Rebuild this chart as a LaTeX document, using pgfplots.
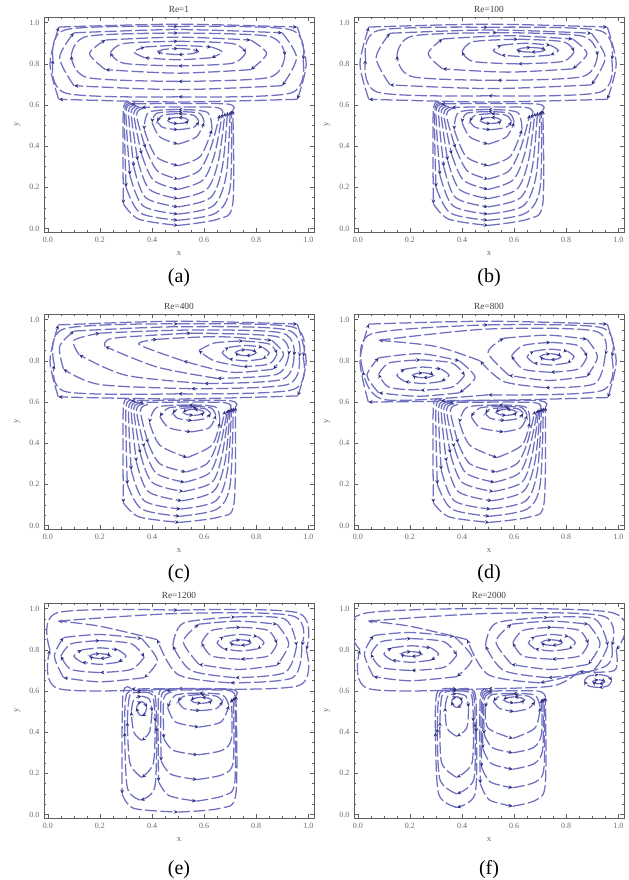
\documentclass[border=0pt]{standalone}
\usepackage{fontspec}
\setmainfont{Liberation Serif}
\usepackage{pgfplots}
\pgfplotsset{compat=1.18}
\usetikzlibrary{arrows.meta}
\definecolor{slc}{RGB}{112,112,192}
\definecolor{arc}{RGB}{50,50,130}
\definecolor{frm}{RGB}{95,95,95}
\definecolor{tkl}{RGB}{105,105,105}
\tikzset{sl/.style={draw=slc, line width=0.95pt, smooth, dash pattern=on 9pt off 2.5pt, -{Stealth[length=3.2pt,width=2.8pt,color=arc]}}}
% closed streamline of 8 points, drawn as 4 arcs, each ending in an arrow
\newcommand{\lp}[8]{%
\addplot[sl] coordinates {#1#2#3};\addplot[sl] coordinates {#3#4#5};%
\addplot[sl] coordinates {#5#6#7};\addplot[sl] coordinates {#7#8#1};}
% closed streamline of 9 points
\newcommand{\lpu}[9]{%
\addplot[sl] coordinates {#1#2#3};\addplot[sl] coordinates {#3#4#5};%
\addplot[sl] coordinates {#5#6#7};\addplot[sl] coordinates {#7#8#9#1};}
% U-shaped streamline, top not drawn
\newcommand{\lpo}[9]{%
\addplot[sl] coordinates {#3#4#5};%
\addplot[sl] coordinates {#5#6#7};\addplot[sl] coordinates {#7#8#9#1};}
\pgfplotsset{panel/.style={scale only axis, width=202.5pt, height=161.25pt,
  xmin=-0.015, xmax=1.022, ymin=-0.017, ymax=1.028,
  xtick={0,0.2,0.4,0.6,0.8,1}, ytick={0,0.2,0.4,0.6,0.8,1}, minor tick num=3,
  tick align=inside, major tick length=3pt, minor tick length=1.6pt,
  axis line style={frm, line width=0.7pt}, every tick/.style={frm, line width=0.5pt},
  tick label style={font=\fontsize{6}{7}\selectfont, tkl},
  xticklabel style={/pgf/number format/fixed, /pgf/number format/fixed zerofill, /pgf/number format/precision=1},
  yticklabel style={/pgf/number format/fixed, /pgf/number format/fixed zerofill, /pgf/number format/precision=1},
  /pgf/number format/assume math mode=true,
  xlabel={x}, ylabel={y}, label style={font=\fontsize{6.5}{7}\selectfont, tkl},
  title style={font=\fontsize{7}{8}\selectfont, text=black!75, inner sep=0pt, at={(0.5,1)}, anchor=south, yshift=-3pt},
  anchor=south west}}
\newcommand{\stemAB}{%
\lp{(0.6,0.515)}{(0.582,0.56)}{(0.5,0.568)}{(0.418,0.56)}{(0.4,0.515)}{(0.43,0.445)}{(0.5,0.41)}{(0.57,0.445)}
\lp{(0.63,0.48)}{(0.612,0.565)}{(0.5,0.578)}{(0.388,0.565)}{(0.37,0.48)}{(0.415,0.35)}{(0.5,0.305)}{(0.585,0.35)}
\lpo{(0.66,0.553)}{(0.63,0.585)}{(0.37,0.585)}{(0.34,0.553)}{(0.375,0.39)}{(0.42,0.28)}{(0.5,0.24)}{(0.58,0.28)}{(0.625,0.39)}
\lpu{(0.67,0.558)}{(0.64,0.589)}{(0.36,0.589)}{(0.33,0.558)}{(0.36,0.36)}{(0.405,0.235)}{(0.5,0.19)}{(0.595,0.235)}{(0.64,0.36)}
\lpo{(0.68,0.563)}{(0.65,0.593)}{(0.35,0.593)}{(0.32,0.563)}{(0.345,0.33)}{(0.39,0.19)}{(0.5,0.145)}{(0.61,0.19)}{(0.655,0.33)}
\lpo{(0.69,0.567)}{(0.66,0.597)}{(0.34,0.597)}{(0.31,0.567)}{(0.33,0.3)}{(0.375,0.15)}{(0.5,0.105)}{(0.625,0.15)}{(0.67,0.3)}
\lpo{(0.7,0.57)}{(0.67,0.6)}{(0.33,0.6)}{(0.3,0.57)}{(0.315,0.26)}{(0.365,0.11)}{(0.5,0.07)}{(0.635,0.11)}{(0.685,0.26)}
\lpo{(0.705,0.573)}{(0.675,0.603)}{(0.325,0.603)}{(0.295,0.573)}{(0.3,0.2)}{(0.355,0.075)}{(0.5,0.04)}{(0.645,0.075)}{(0.7,0.2)}
\lpu{(0.71,0.576)}{(0.68,0.606)}{(0.32,0.606)}{(0.29,0.576)}{(0.29,0.12)}{(0.349,0.045)}{(0.5,0.015)}{(0.651,0.045)}{(0.71,0.12)}
}
\newcommand{\stemCD}{%
\lp{(0.66,0.5)}{(0.645,0.575)}{(0.54,0.585)}{(0.42,0.575)}{(0.39,0.5)}{(0.43,0.39)}{(0.535,0.33)}{(0.63,0.39)}
\lpo{(0.68,0.558)}{(0.65,0.588)}{(0.385,0.588)}{(0.355,0.558)}{(0.385,0.4)}{(0.43,0.3)}{(0.53,0.26)}{(0.61,0.3)}{(0.65,0.4)}
\lpo{(0.69,0.562)}{(0.66,0.592)}{(0.37,0.592)}{(0.34,0.562)}{(0.37,0.38)}{(0.415,0.255)}{(0.525,0.21)}{(0.62,0.255)}{(0.66,0.38)}
\lpo{(0.695,0.565)}{(0.665,0.595)}{(0.36,0.595)}{(0.33,0.565)}{(0.355,0.35)}{(0.4,0.21)}{(0.52,0.165)}{(0.63,0.21)}{(0.67,0.35)}
\lpu{(0.7,0.568)}{(0.67,0.598)}{(0.35,0.598)}{(0.32,0.568)}{(0.34,0.31)}{(0.385,0.165)}{(0.515,0.12)}{(0.635,0.165)}{(0.68,0.31)}
\lpo{(0.705,0.571)}{(0.675,0.601)}{(0.34,0.601)}{(0.31,0.571)}{(0.32,0.27)}{(0.37,0.12)}{(0.51,0.08)}{(0.645,0.12)}{(0.69,0.27)}
\lpo{(0.712,0.574)}{(0.682,0.604)}{(0.33,0.604)}{(0.3,0.574)}{(0.305,0.2)}{(0.36,0.08)}{(0.507,0.045)}{(0.65,0.08)}{(0.7,0.2)}
\lpu{(0.72,0.577)}{(0.69,0.607)}{(0.32,0.607)}{(0.29,0.577)}{(0.29,0.11)}{(0.35,0.042)}{(0.505,0.015)}{(0.66,0.042)}{(0.715,0.11)}
}
\begin{document}
\begin{tikzpicture}
\path[use as bounding box] (0,0) rectangle (471pt,660pt);
% ---------------- (a) ----------------
\begin{axis}[panel, at={(33pt,486pt)}, title={Re=1}]
\lp{(0.58,0.86)}{(0.556,0.85)}{(0.5,0.845)}{(0.444,0.85)}{(0.42,0.86)}{(0.444,0.87)}{(0.5,0.875)}{(0.556,0.87)}
\lp{(0.628,0.83)}{(0.5,0.82)}{(0.372,0.83)}{(0.33,0.858)}{(0.372,0.882)}{(0.5,0.89)}{(0.628,0.882)}{(0.67,0.858)}
\lp{(0.76,0.855)}{(0.708,0.803)}{(0.5,0.79)}{(0.292,0.803)}{(0.24,0.855)}{(0.292,0.899)}{(0.5,0.91)}{(0.708,0.899)}
\lp{(0.779,0.772)}{(0.5,0.755)}{(0.221,0.772)}{(0.16,0.85)}{(0.221,0.916)}{(0.5,0.93)}{(0.779,0.916)}{(0.84,0.85)}
\lp{(0.91,0.84)}{(0.849,0.734)}{(0.5,0.715)}{(0.151,0.734)}{(0.09,0.84)}{(0.151,0.934)}{(0.5,0.95)}{(0.849,0.934)}
\lp{(0.9,0.694)}{(0.5,0.675)}{(0.1,0.694)}{(0.045,0.83)}{(0.1,0.951)}{(0.5,0.967)}{(0.9,0.951)}{(0.955,0.83)}
\lp{(0.98,0.82)}{(0.932,0.658)}{(0.5,0.64)}{(0.068,0.658)}{(0.02,0.82)}{(0.068,0.966)}{(0.5,0.982)}{(0.932,0.966)}
\lp{(0.958,0.628)}{(0.5,0.615)}{(0.042,0.628)}{(0.008,0.8)}{(0.042,0.979)}{(0.5,0.993)}{(0.958,0.979)}{(0.992,0.8)}
\lp{(0.54,0.525)}{(0.528,0.536)}{(0.5,0.54)}{(0.472,0.536)}{(0.46,0.525)}{(0.472,0.514)}{(0.5,0.51)}{(0.528,0.514)}
\lp{(0.58,0.52)}{(0.56,0.55)}{(0.5,0.558)}{(0.44,0.55)}{(0.42,0.52)}{(0.442,0.491)}{(0.5,0.48)}{(0.558,0.491)}
\stemAB
\end{axis}
% ---------------- (b) ----------------
\begin{axis}[panel, at={(265.5pt,486pt)}, title={Re=100}]
\lp{(0.72,0.868)}{(0.704,0.86)}{(0.665,0.857)}{(0.627,0.86)}{(0.61,0.868)}{(0.627,0.876)}{(0.665,0.88)}{(0.704,0.876)}
\lp{(0.739,0.843)}{(0.645,0.835)}{(0.551,0.843)}{(0.52,0.865)}{(0.551,0.891)}{(0.645,0.9)}{(0.739,0.891)}{(0.77,0.865)}
\lp{(0.83,0.86)}{(0.787,0.812)}{(0.615,0.8)}{(0.443,0.812)}{(0.40,0.86)}{(0.443,0.908)}{(0.615,0.92)}{(0.787,0.908)}
\lp{(0.825,0.776)}{(0.575,0.76)}{(0.325,0.776)}{(0.27,0.85)}{(0.325,0.921)}{(0.575,0.937)}{(0.825,0.921)}{(0.88,0.85)}
\lp{(0.92,0.84)}{(0.862,0.738)}{(0.535,0.72)}{(0.208,0.738)}{(0.15,0.84)}{(0.208,0.935)}{(0.535,0.952)}{(0.862,0.935)}
\lp{(0.897,0.698)}{(0.51,0.68)}{(0.123,0.698)}{(0.07,0.83)}{(0.123,0.949)}{(0.51,0.965)}{(0.897,0.949)}{(0.95,0.83)}
\lp{(0.975,0.82)}{(0.928,0.662)}{(0.5,0.645)}{(0.077,0.662)}{(0.03,0.82)}{(0.077,0.962)}{(0.5,0.978)}{(0.928,0.962)}
\lp{(0.958,0.628)}{(0.5,0.615)}{(0.042,0.628)}{(0.008,0.8)}{(0.042,0.979)}{(0.5,0.993)}{(0.958,0.979)}{(0.992,0.8)}
\lp{(0.55,0.525)}{(0.538,0.536)}{(0.51,0.54)}{(0.482,0.536)}{(0.47,0.525)}{(0.482,0.514)}{(0.51,0.51)}{(0.538,0.514)}
\lp{(0.59,0.52)}{(0.57,0.55)}{(0.51,0.558)}{(0.45,0.55)}{(0.43,0.52)}{(0.452,0.491)}{(0.51,0.48)}{(0.568,0.491)}
\stemAB
\end{axis}
% ---------------- (c) ----------------
\begin{axis}[panel, at={(33pt,263.25pt)}, title={Re=400}]
\lp{(0.8,0.84)}{(0.788,0.83)}{(0.76,0.825)}{(0.732,0.83)}{(0.72,0.84)}{(0.732,0.85)}{(0.76,0.855)}{(0.788,0.85)}
\lp{(0.825,0.81)}{(0.76,0.8)}{(0.695,0.81)}{(0.67,0.84)}{(0.695,0.866)}{(0.76,0.875)}{(0.825,0.866)}{(0.85,0.838)}
\lp{(0.88,0.835)}{(0.85,0.785)}{(0.75,0.772)}{(0.64,0.8)}{(0.58,0.85)}{(0.64,0.887)}{(0.75,0.897)}{(0.85,0.882)}
\lp{(0.865,0.76)}{(0.7,0.745)}{(0.52,0.8)}{(0.35,0.88)}{(0.42,0.905)}{(0.65,0.918)}{(0.86,0.9)}{(0.905,0.833)}
\lp{(0.925,0.83)}{(0.88,0.735)}{(0.65,0.715)}{(0.42,0.77)}{(0.22,0.87)}{(0.25,0.91)}{(0.55,0.935)}{(0.88,0.918)}
\lpu{(0.945,0.825)}{(0.9,0.71)}{(0.6,0.69)}{(0.3,0.73)}{(0.12,0.83)}{(0.1,0.9)}{(0.2,0.935)}{(0.55,0.95)}{(0.9,0.935)}
\lpu{(0.965,0.82)}{(0.92,0.685)}{(0.55,0.665)}{(0.2,0.685)}{(0.06,0.76)}{(0.045,0.87)}{(0.1,0.945)}{(0.5,0.966)}{(0.92,0.95)}
\lp{(0.98,0.82)}{(0.94,0.66)}{(0.5,0.64)}{(0.07,0.65)}{(0.025,0.78)}{(0.06,0.955)}{(0.5,0.98)}{(0.94,0.965)}
\lp{(0.96,0.63)}{(0.5,0.615)}{(0.04,0.625)}{(0.008,0.8)}{(0.04,0.975)}{(0.5,0.993)}{(0.958,0.979)}{(0.992,0.8)}
\lp{(0.6,0.55)}{(0.588,0.56)}{(0.56,0.565)}{(0.532,0.56)}{(0.52,0.55)}{(0.532,0.54)}{(0.56,0.535)}{(0.588,0.54)}
\lp{(0.625,0.545)}{(0.605,0.567)}{(0.555,0.572)}{(0.5,0.567)}{(0.48,0.545)}{(0.5,0.52)}{(0.555,0.51)}{(0.605,0.52)}
\lp{(0.645,0.535)}{(0.625,0.572)}{(0.55,0.579)}{(0.465,0.572)}{(0.43,0.53)}{(0.465,0.475)}{(0.55,0.455)}{(0.62,0.475)}
\stemCD
\end{axis}
% ---------------- (d) ----------------
\begin{axis}[panel, at={(265.5pt,263.25pt)}, title={Re=800}]
\lp{(0.78,0.82)}{(0.768,0.81)}{(0.74,0.805)}{(0.712,0.81)}{(0.7,0.82)}{(0.712,0.83)}{(0.74,0.835)}{(0.768,0.83)}
\lp{(0.805,0.79)}{(0.74,0.78)}{(0.675,0.79)}{(0.65,0.82)}{(0.675,0.847)}{(0.74,0.857)}{(0.805,0.847)}{(0.83,0.82)}
\lp{(0.88,0.82)}{(0.845,0.76)}{(0.74,0.745)}{(0.635,0.76)}{(0.59,0.825)}{(0.635,0.875)}{(0.74,0.89)}{(0.845,0.875)}
\lp{(0.88,0.725)}{(0.73,0.705)}{(0.58,0.73)}{(0.5,0.84)}{(0.56,0.91)}{(0.73,0.925)}{(0.88,0.905)}{(0.92,0.82)}
\lp{(0.29,0.73)}{(0.278,0.722)}{(0.25,0.718)}{(0.222,0.722)}{(0.21,0.73)}{(0.222,0.738)}{(0.25,0.742)}{(0.278,0.738)}
\lp{(0.32,0.7)}{(0.25,0.69)}{(0.18,0.7)}{(0.15,0.73)}{(0.18,0.76)}{(0.25,0.77)}{(0.32,0.76)}{(0.35,0.73)}
\lp{(0.41,0.73)}{(0.36,0.672)}{(0.24,0.657)}{(0.12,0.672)}{(0.08,0.735)}{(0.12,0.79)}{(0.24,0.805)}{(0.36,0.79)}
\lp{(0.39,0.645)}{(0.23,0.628)}{(0.08,0.645)}{(0.035,0.73)}{(0.08,0.815)}{(0.24,0.835)}{(0.39,0.8)}{(0.45,0.72)}
\lpu{(0.95,0.83)}{(0.91,0.69)}{(0.72,0.67)}{(0.56,0.7)}{(0.47,0.8)}{(0.3,0.87)}{(0.08,0.9)}{(0.5,0.955)}{(0.91,0.945)}
\lp{(0.975,0.82)}{(0.935,0.655)}{(0.5,0.635)}{(0.1,0.612)}{(0.02,0.75)}{(0.05,0.93)}{(0.5,0.975)}{(0.935,0.962)}
\lp{(0.96,0.622)}{(0.5,0.607)}{(0.04,0.6)}{(0.008,0.8)}{(0.042,0.979)}{(0.5,0.993)}{(0.958,0.979)}{(0.992,0.8)}
\lp{(0.61,0.55)}{(0.598,0.56)}{(0.57,0.565)}{(0.542,0.56)}{(0.53,0.55)}{(0.542,0.54)}{(0.57,0.535)}{(0.598,0.54)}
\lp{(0.635,0.545)}{(0.615,0.567)}{(0.565,0.572)}{(0.51,0.567)}{(0.49,0.545)}{(0.51,0.52)}{(0.565,0.51)}{(0.615,0.52)}
\lp{(0.65,0.535)}{(0.63,0.572)}{(0.56,0.579)}{(0.47,0.572)}{(0.435,0.53)}{(0.47,0.475)}{(0.56,0.455)}{(0.625,0.475)}
\stemCD
\end{axis}
% ---------------- (e) ----------------
\begin{axis}[panel, at={(33pt,46.5pt)}, title={Re=1200}]
\lp{(0.78,0.835)}{(0.768,0.826)}{(0.74,0.822)}{(0.712,0.826)}{(0.70,0.835)}{(0.712,0.845)}{(0.74,0.849)}{(0.768,0.845)}
\lp{(0.805,0.805)}{(0.74,0.795)}{(0.675,0.805)}{(0.65,0.835)}{(0.675,0.865)}{(0.74,0.875)}{(0.805,0.865)}{(0.83,0.835)}
\lp{(0.88,0.83)}{(0.845,0.77)}{(0.74,0.755)}{(0.63,0.77)}{(0.59,0.835)}{(0.63,0.895)}{(0.74,0.91)}{(0.845,0.895)}
\lp{(0.88,0.725)}{(0.73,0.705)}{(0.58,0.73)}{(0.52,0.84)}{(0.58,0.925)}{(0.73,0.94)}{(0.88,0.925)}{(0.925,0.83)}
\lp{(0.955,0.82)}{(0.91,0.69)}{(0.72,0.665)}{(0.55,0.7)}{(0.48,0.82)}{(0.52,0.93)}{(0.72,0.96)}{(0.91,0.95)}
\lp{(0.24,0.77)}{(0.228,0.762)}{(0.2,0.758)}{(0.172,0.762)}{(0.16,0.77)}{(0.172,0.778)}{(0.2,0.782)}{(0.228,0.778)}
\lp{(0.27,0.74)}{(0.2,0.73)}{(0.13,0.74)}{(0.1,0.77)}{(0.13,0.8)}{(0.2,0.81)}{(0.27,0.8)}{(0.3,0.77)}
\lp{(0.37,0.765)}{(0.32,0.705)}{(0.2,0.69)}{(0.09,0.705)}{(0.05,0.77)}{(0.09,0.83)}{(0.2,0.845)}{(0.32,0.83)}
\lp{(0.37,0.665)}{(0.2,0.645)}{(0.06,0.665)}{(0.025,0.77)}{(0.06,0.86)}{(0.2,0.875)}{(0.36,0.855)}{(0.42,0.75)}
\lpu{(0.975,0.82)}{(0.94,0.665)}{(0.7,0.64)}{(0.5,0.68)}{(0.42,0.85)}{(0.2,0.915)}{(0.04,0.94)}{(0.5,0.977)}{(0.94,0.965)}
\lp{(0.992,0.8)}{(0.96,0.625)}{(0.5,0.612)}{(0.04,0.612)}{(0.008,0.8)}{(0.035,0.98)}{(0.5,0.993)}{(0.96,0.98)}
\lp{(0.63,0.555)}{(0.618,0.565)}{(0.59,0.57)}{(0.562,0.565)}{(0.55,0.555)}{(0.562,0.545)}{(0.59,0.54)}{(0.618,0.545)}
\lp{(0.67,0.55)}{(0.647,0.575)}{(0.585,0.583)}{(0.523,0.575)}{(0.5,0.55)}{(0.523,0.515)}{(0.585,0.505)}{(0.647,0.515)}
\lp{(0.695,0.53)}{(0.67,0.582)}{(0.58,0.59)}{(0.49,0.58)}{(0.46,0.52)}{(0.49,0.45)}{(0.58,0.425)}{(0.665,0.45)}
\lpo{(0.705,0.564)}{(0.675,0.594)}{(0.475,0.594)}{(0.445,0.564)}{(0.445,0.37)}{(0.481,0.312)}{(0.575,0.29)}{(0.669,0.312)}{(0.705,0.37)}
\lpo{(0.712,0.569)}{(0.682,0.599)}{(0.465,0.599)}{(0.435,0.569)}{(0.435,0.26)}{(0.473,0.195)}{(0.573,0.17)}{(0.673,0.195)}{(0.712,0.26)}
\lpu{(0.718,0.574)}{(0.688,0.604)}{(0.455,0.604)}{(0.425,0.574)}{(0.425,0.16)}{(0.465,0.092)}{(0.57,0.065)}{(0.675,0.092)}{(0.718,0.16)}
\lp{(0.38,0.52)}{(0.372,0.49)}{(0.36,0.48)}{(0.348,0.49)}{(0.34,0.52)}{(0.348,0.54)}{(0.36,0.548)}{(0.372,0.54)}
\lp{(0.4,0.5)}{(0.39,0.4)}{(0.36,0.36)}{(0.33,0.4)}{(0.32,0.5)}{(0.33,0.56)}{(0.36,0.575)}{(0.39,0.56)}
\lp{(0.412,0.45)}{(0.405,0.25)}{(0.36,0.18)}{(0.315,0.25)}{(0.305,0.45)}{(0.315,0.58)}{(0.36,0.593)}{(0.402,0.58)}
\lp{(0.418,0.4)}{(0.41,0.13)}{(0.355,0.07)}{(0.305,0.13)}{(0.295,0.4)}{(0.302,0.585)}{(0.36,0.6)}{(0.41,0.585)}
\lpu{(0.722,0.578)}{(0.692,0.61)}{(0.32,0.61)}{(0.288,0.58)}{(0.285,0.1)}{(0.33,0.03)}{(0.5,0.012)}{(0.66,0.03)}{(0.722,0.1)}
\end{axis}
% ---------------- (f) ----------------
\begin{axis}[panel, at={(265.5pt,46.5pt)}, title={Re=2000}]
\lp{(0.785,0.835)}{(0.773,0.826)}{(0.745,0.822)}{(0.717,0.826)}{(0.705,0.835)}{(0.717,0.845)}{(0.745,0.849)}{(0.773,0.845)}
\lp{(0.81,0.805)}{(0.745,0.795)}{(0.68,0.805)}{(0.655,0.835)}{(0.68,0.865)}{(0.745,0.875)}{(0.81,0.865)}{(0.835,0.835)}
\lp{(0.885,0.83)}{(0.85,0.77)}{(0.745,0.755)}{(0.635,0.77)}{(0.595,0.835)}{(0.635,0.895)}{(0.745,0.91)}{(0.85,0.895)}
\lp{(0.885,0.73)}{(0.74,0.705)}{(0.59,0.73)}{(0.53,0.84)}{(0.59,0.925)}{(0.74,0.94)}{(0.885,0.925)}{(0.93,0.83)}
\lp{(0.96,0.82)}{(0.9,0.7)}{(0.73,0.665)}{(0.56,0.7)}{(0.49,0.82)}{(0.53,0.93)}{(0.73,0.958)}{(0.91,0.95)}
\lp{(0.245,0.78)}{(0.233,0.772)}{(0.205,0.768)}{(0.177,0.772)}{(0.165,0.78)}{(0.177,0.788)}{(0.205,0.792)}{(0.233,0.788)}
\lp{(0.28,0.75)}{(0.205,0.74)}{(0.13,0.75)}{(0.1,0.78)}{(0.13,0.81)}{(0.205,0.82)}{(0.28,0.81)}{(0.31,0.78)}
\lp{(0.38,0.775)}{(0.33,0.715)}{(0.205,0.7)}{(0.09,0.715)}{(0.05,0.78)}{(0.09,0.84)}{(0.205,0.855)}{(0.33,0.84)}
\lp{(0.38,0.67)}{(0.2,0.65)}{(0.06,0.67)}{(0.025,0.78)}{(0.06,0.87)}{(0.2,0.885)}{(0.37,0.865)}{(0.44,0.76)}
\lpu{(0.975,0.82)}{(0.95,0.72)}{(0.7,0.64)}{(0.5,0.68)}{(0.42,0.85)}{(0.2,0.915)}{(0.04,0.94)}{(0.5,0.977)}{(0.94,0.965)}
\lpu{(0.992,0.8)}{(0.985,0.7)}{(0.85,0.695)}{(0.75,0.625)}{(0.5,0.612)}{(0.04,0.612)}{(0.008,0.8)}{(0.035,0.98)}{(0.96,0.985)}
\lp{(0.95,0.645)}{(0.94,0.638)}{(0.925,0.635)}{(0.91,0.638)}{(0.9,0.645)}{(0.91,0.652)}{(0.925,0.655)}{(0.94,0.652)}
\lp{(0.975,0.65)}{(0.96,0.625)}{(0.925,0.617)}{(0.885,0.625)}{(0.87,0.65)}{(0.885,0.672)}{(0.925,0.68)}{(0.96,0.672)}
\lp{(0.4,0.55)}{(0.394,0.53)}{(0.38,0.52)}{(0.366,0.53)}{(0.36,0.55)}{(0.366,0.565)}{(0.38,0.572)}{(0.394,0.565)}
\lp{(0.425,0.52)}{(0.418,0.42)}{(0.38,0.38)}{(0.342,0.42)}{(0.335,0.52)}{(0.345,0.575)}{(0.38,0.588)}{(0.415,0.575)}
\lp{(0.443,0.45)}{(0.438,0.25)}{(0.38,0.18)}{(0.322,0.25)}{(0.315,0.45)}{(0.325,0.585)}{(0.38,0.6)}{(0.435,0.585)}
\lp{(0.45,0.42)}{(0.445,0.17)}{(0.38,0.1)}{(0.315,0.17)}{(0.305,0.42)}{(0.315,0.59)}{(0.38,0.604)}{(0.442,0.59)}
\lp{(0.455,0.4)}{(0.45,0.1)}{(0.38,0.035)}{(0.31,0.1)}{(0.298,0.4)}{(0.305,0.595)}{(0.38,0.608)}{(0.448,0.595)}
\lp{(0.64,0.557)}{(0.628,0.567)}{(0.6,0.572)}{(0.572,0.567)}{(0.56,0.557)}{(0.572,0.547)}{(0.6,0.542)}{(0.628,0.547)}
\lp{(0.68,0.55)}{(0.655,0.575)}{(0.6,0.583)}{(0.545,0.575)}{(0.52,0.55)}{(0.545,0.515)}{(0.6,0.5)}{(0.655,0.515)}
\lp{(0.7,0.52)}{(0.68,0.58)}{(0.595,0.588)}{(0.51,0.58)}{(0.49,0.52)}{(0.5,0.42)}{(0.595,0.37)}{(0.68,0.42)}
\lpo{(0.705,0.561)}{(0.675,0.591)}{(0.515,0.591)}{(0.485,0.561)}{(0.485,0.39)}{(0.516,0.325)}{(0.595,0.3)}{(0.674,0.325)}{(0.705,0.39)}
\lpo{(0.71,0.564)}{(0.68,0.594)}{(0.51,0.594)}{(0.48,0.564)}{(0.48,0.32)}{(0.512,0.248)}{(0.595,0.22)}{(0.678,0.248)}{(0.71,0.32)}
\lpo{(0.715,0.567)}{(0.685,0.597)}{(0.505,0.597)}{(0.475,0.567)}{(0.475,0.23)}{(0.509,0.158)}{(0.595,0.13)}{(0.681,0.158)}{(0.715,0.23)}
\lpu{(0.72,0.57)}{(0.69,0.6)}{(0.5,0.6)}{(0.47,0.57)}{(0.47,0.15)}{(0.505,0.071)}{(0.595,0.04)}{(0.685,0.071)}{(0.72,0.15)}
\end{axis}
\node[font=\fontsize{15}{16}\selectfont] at (134.25pt,451.5pt) {(a)};
\node[font=\fontsize{15}{16}\selectfont] at (366.75pt,451.5pt) {(b)};
\node[font=\fontsize{15}{16}\selectfont] at (134.25pt,229.5pt) {(c)};
\node[font=\fontsize{15}{16}\selectfont] at (366.75pt,229.5pt) {(d)};
\node[font=\fontsize{15}{16}\selectfont] at (134.25pt,7.5pt) {(e)};
\node[font=\fontsize{15}{16}\selectfont] at (366.75pt,7.5pt) {(f)};
\end{tikzpicture}
\end{document}
